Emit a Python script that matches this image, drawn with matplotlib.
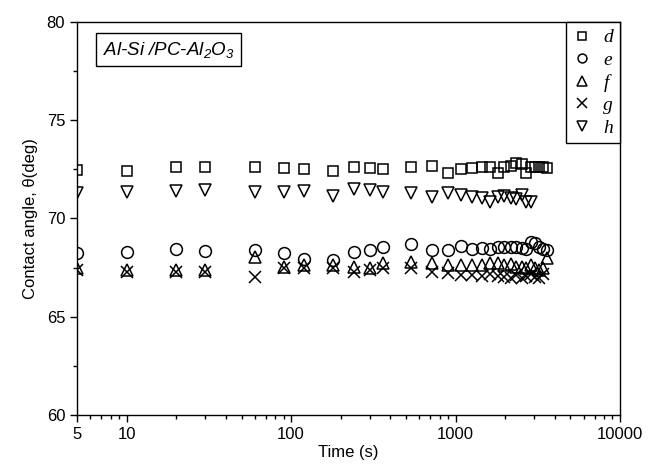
import matplotlib
matplotlib.use('Agg')
import matplotlib.pyplot as plt
from matplotlib.ticker import FixedLocator, NullFormatter

plt.rcParams['font.family'] = ['Liberation Sans', 'DejaVu Sans']
plt.rcParams['mathtext.fontset'] = 'custom'
plt.rcParams['mathtext.rm'] = 'Liberation Sans:italic'
plt.rcParams['mathtext.it'] = 'Liberation Sans:italic'

# time points (s)
t_all = [5, 10, 20, 30, 60, 90, 120, 180, 240, 300, 360, 540, 720, 900, 1080,
         1260, 1440, 1620, 1800, 1980, 2160, 2340, 2520, 2700, 2880, 3060,
         3240, 3420, 3600]

d_vals = [72.47, 72.43, 72.60, 72.64, 72.60, 72.55, 72.52, 72.43, 72.64, 72.55,
          72.52, 72.60, 72.69, 72.33, 72.52, 72.55, 72.64, 72.60, 72.30, 72.64,
          72.67, 72.84, 72.77, 72.33, 72.60, 72.60, 72.60, 72.60, 72.55]
e_vals = [68.23, 68.31, 68.45, 68.35, 68.40, 68.23, 67.92, 67.89, 68.31, 68.40,
          68.57, 68.70, 68.40, 68.40, 68.62, 68.45, 68.48, 68.45, 68.57, 68.57,
          68.57, 68.57, 68.50, 68.43, 68.82, 68.75, 68.57, 68.43, 68.40]
f_vals = [67.47, 67.38, 67.38, 67.38, 68.03, 67.55, 67.63, 67.63, 67.55, 67.47,
          67.72, 67.80, 67.72, 67.63, 67.63, 67.63, 67.63, 67.72, 67.72, 67.63,
          67.68, 67.55, 67.55, 67.47, 67.63, 67.47, 67.40, 67.50, 67.97]
g_vals = [67.38, 67.30, 67.30, 67.30, 67.04, 67.47, 67.47, 67.47, 67.30, 67.38,
          67.47, 67.47, 67.30, 67.24, 67.12, 67.12, 67.07, 67.20, 67.07, 67.01,
          66.96, 67.12, 66.96, 67.07, 67.18, 67.04, 66.96, 67.18]
h_vals = [71.28, 71.33, 71.41, 71.45, 71.36, 71.36, 71.40, 71.15, 71.48, 71.45,
          71.36, 71.28, 71.08, 71.31, 71.20, 71.08, 71.03, 70.86, 71.10, 71.15,
          71.03, 70.98, 71.20, 70.86, 70.86]

labels = ['d', 'e', 'f', 'g', 'h']

fig = plt.figure(figsize=(6.6, 4.75), dpi=100)
ax = fig.add_axes([0.1167, 0.1263, 0.8227, 0.8274])

mk = dict(linestyle='none', markerfacecolor='none', markeredgecolor='black',
          color='black', markeredgewidth=1.1)
ax.plot(t_all, d_vals, marker='s', markersize=7, label=labels[0], **mk)
ax.plot(t_all, e_vals, marker='o', markersize=8.5, label=labels[1], **mk)
ax.plot(t_all, f_vals, marker='^', markersize=9, label=labels[2], **mk)
ax.plot(t_all[:len(g_vals)], g_vals, marker='x', markersize=9, label=labels[3], **mk)
ax.plot(t_all[:len(h_vals)], h_vals, marker='v', markersize=9, label=labels[4], **mk)

ax.set_xscale('log')
ax.set_xlim(5, 10000)
ax.set_ylim(60, 80)
ax.set_xticks([5, 10, 100, 1000, 10000])
ax.set_xticklabels(['5', '10', '100', '1000', '10000'])
minors = [m * 10 ** k for k in range(0, 4) for m in range(2, 10)]
minors = [v for v in minors if 5 < v < 10000 and v not in (10, 100, 1000)]
ax.xaxis.set_minor_locator(FixedLocator(minors))
ax.xaxis.set_minor_formatter(NullFormatter())
ax.set_yticks([60, 65, 70, 75, 80])
ax.yaxis.set_minor_locator(FixedLocator([62.5, 67.5, 72.5, 77.5]))

ax.tick_params(which='both', direction='out', labelsize=12, width=1, top=False, right=False)
ax.tick_params(which='major', length=5)
ax.tick_params(which='minor', length=3)
for s in ax.spines.values():
    s.set_linewidth(1)

ax.set_xlabel('Time (s)', fontsize=12, labelpad=2)
ax.set_ylabel('Contact angle, \u03b8(deg)', fontsize=12, labelpad=6)

ax.text(0.047, 0.93, 'Al-Si /PC-Al$_2$O$_3$', transform=ax.transAxes,
        fontsize=13.5, fontstyle='italic', va='center', ha='left',
        bbox=dict(boxstyle='square,pad=0.35', facecolor='white', edgecolor='black', linewidth=1))

leg = ax.legend(loc='upper right', borderaxespad=0, fancybox=False, framealpha=1,
                edgecolor='black', markerscale=0.75, handlelength=1.0,
                handletextpad=0.6, labelspacing=0.25, borderpad=0.35,
                prop={'family': 'Liberation Serif', 'style': 'italic', 'size': 14})
leg.get_frame().set_linewidth(1)

fig.savefig('out.png', dpi=100)
